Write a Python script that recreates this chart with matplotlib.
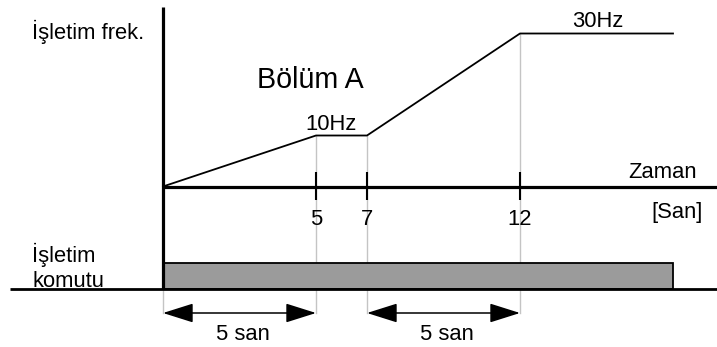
import numpy as np
import matplotlib
matplotlib.use('Agg')
import matplotlib.pyplot as plt
from matplotlib.patches import FancyArrowPatch

plt.rcParams['font.family'] = ['Liberation Sans', 'DejaVu Sans']

# data
time_pts = [0, 5, 7, 12, 17]
freq_pts = [0, 10, 10, 30, 30]
tick_times = [5, 7, 12]
run_start, run_end = 0, 17
spans = [(0, 5), (7, 12)]
span_labels = ['5 san', '5 san']
hz_labels = ['10Hz', '30Hz']

W, H = 717, 347
# schematic time axis: time -> pixel position (not to scale)
T_KNOTS = [-20, 0, 5, 7, 12, 40]
PX_KNOTS = [163 - 20 * 30.6, 163, 316, 367, 520, 520 + 28 * 30.6]

def fwd(t):
    return np.interp(t, T_KNOTS, PX_KNOTS)

def inv(p):
    return np.interp(p, PX_KNOTS, T_KNOTS)

Y0, PX_PER_HZ = 186.5, 5.1     # freq axis
L0, PX_PER_LVL = 289, 26       # command signal

def f_at(py):
    return (Y0 - py) / PX_PER_HZ

def lvl_at(py):
    return (L0 - py) / PX_PER_LVL

def px(x, y):
    return x / W, 1 - y / H

fig = plt.figure(figsize=(W / 100, H / 100), dpi=100)

ax = fig.add_axes([0, 0, 1, 1])
ax.set_xscale('function', functions=(fwd, inv))
ax.set_xlim(inv(0), inv(W))
ax.set_ylim(f_at(H), f_at(0))
ax.axis('off')

ax2 = fig.add_axes([0, 0, 1, 1], sharex=ax)
ax2.set_ylim(lvl_at(H), lvl_at(0))
ax2.axis('off')
ax2.patch.set_alpha(0)

tmax = inv(W)
gray = '#c4c4c4'

# gray guide lines down to the arrows
arrow_f = f_at(313)
for t, f in zip(time_pts[1:4], freq_pts[1:4]):
    ax.plot([t, t], [f, arrow_f], color=gray, lw=1.0, zorder=1)
ax.plot([0, 0], [f_at(289), arrow_f], color=gray, lw=1.0, zorder=1)

# frequency profile
ax.plot(time_pts, freq_pts, color='black', lw=1.3, zorder=3)
# time axis + ticks
ax.plot([0, tmax], [0, 0], color='black', lw=2.3, zorder=4, solid_capstyle='butt')
ax.vlines(tick_times, f_at(200), f_at(172), color='black', lw=1.5, zorder=4)
for t in tick_times:
    ax.text(t, f_at(225), str(t), ha='center', va='baseline', fontsize=15.8)

# command signal
ax2.bar(run_start, 1, width=run_end - run_start, align='edge', bottom=0,
        color='#9b9b9b', edgecolor='black', lw=1.3, zorder=2)
ax2.plot([inv(10), tmax], [0, 0], color='black', lw=2.0, zorder=3, solid_capstyle='butt')
# vertical axis
ax2.plot([0, 0], [0, lvl_at(7)], color='black', lw=2.3, zorder=4, solid_capstyle='butt')

# span arrows
lvl_arrow = lvl_at(313)
for (a, b), lab in zip(spans, span_labels):
    arr = FancyArrowPatch((a, lvl_arrow), (b, lvl_arrow),
                          arrowstyle='<|-|>,head_length=19,head_width=6',
                          mutation_scale=1, lw=1.1, color='black',
                          shrinkA=0, shrinkB=0, zorder=5)
    ax2.add_patch(arr)
    ax2.text((a + b) / 2 + 0.1, lvl_at(340), lab, ha='center', va='baseline', fontsize=15.8)

# labels
fs = 15.8
fig.text(*px(32, 39), 'İşletim frek.', fontsize=fs, va='baseline')
fig.text(*px(257, 88), 'Bölüm A', fontsize=20.6, va='baseline')
fig.text(*px(305, 130), hz_labels[0], fontsize=fs, va='baseline')
fig.text(*px(572, 27), hz_labels[1], fontsize=fs, va='baseline')
fig.text(*px(628, 178), 'Zaman', fontsize=fs, va='baseline')
fig.text(*px(703, 218), '[San]', fontsize=fs, va='baseline', ha='right')
fig.text(*px(32, 262), 'İşletim', fontsize=fs, va='baseline')
fig.text(*px(32, 287), 'komutu', fontsize=fs, va='baseline')

fig.savefig('out.png', dpi=100)
